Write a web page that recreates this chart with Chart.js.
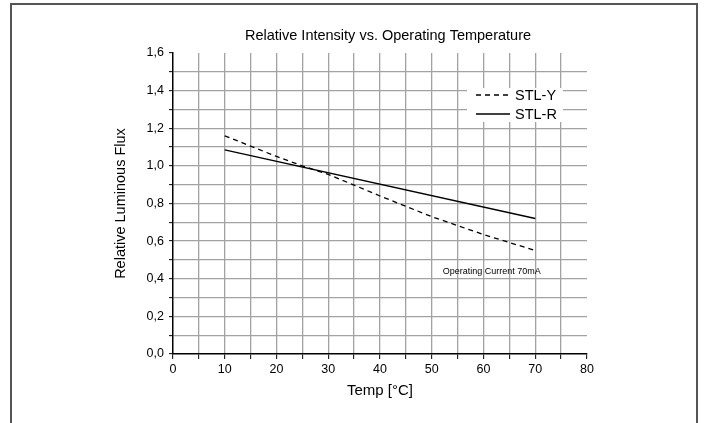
<!DOCTYPE html>
<html>
<head>
<meta charset="utf-8">
<script src="https://cdn.jsdelivr.net/npm/chart.js@4.4.0/dist/chart.umd.min.js"></script>
<style>
  html, body { margin: 0; padding: 0; background: #fff; overflow: hidden; }
  #wrap { position: relative; width: 705px; height: 423px; }
  #frame { position: absolute; left: 10px; top: 3px; width: 684px; height: 500px; border: 2px solid #555; pointer-events: none; }
  canvas { position: absolute; left: 0; top: 0; }
</style>
</head>
<body>
<div id="wrap">
  <canvas id="chart" width="705" height="423"></canvas>
  <div id="frame"></div>
</div>
<script>
// data
const temps = [10, 20, 25, 30, 40, 50, 60, 70];
const stlY = [1.16, 1.05, 1.0, 0.955, 0.84, 0.73, 0.635, 0.55];
const tempsR = [10, 70];
const stlR = [1.085, 0.72];
const seriesNames = ['STL-Y', 'STL-R'];
const chartTitle = 'Relative Intensity vs. Operating Temperature';
const noteText = 'Operating Current 70mA';

const FONT = 'Arial, "Liberation Sans", sans-serif';
const GRID = '#a2a2a2';

function toPoints(xs, ys) {
    return xs.map((x, i) => ({ x: x, y: ys[i] }));
}

const extras = {
    id: 'extras',
    afterDatasetsDraw(chart) {
        const ctx = chart.ctx;
        const xs = chart.scales.x, ys = chart.scales.y;
        ctx.save();

        // title
        ctx.fillStyle = '#000';
        ctx.font = '14.5px ' + FONT;
        ctx.textAlign = 'center';
        ctx.textBaseline = 'middle';
        ctx.fillText(chartTitle, 388, 36);

        // note
        ctx.font = '9px ' + FONT;
        ctx.fillText(noteText, xs.getPixelForValue(61.6), ys.getPixelForValue(0.436));

        // legend box
        ctx.fillStyle = '#fff';
        ctx.fillRect(467, 88, 96, 34);
        chart.data.datasets.forEach((ds, i) => {
            const y = 95 + i * 19;
            ctx.strokeStyle = ds.borderColor;
            ctx.lineWidth = ds.borderWidth;
            ctx.setLineDash(ds.borderDash || []);
            ctx.beginPath();
            ctx.moveTo(476, y);
            ctx.lineTo(510, y);
            ctx.stroke();
            ctx.setLineDash([]);
            ctx.fillStyle = '#000';
            ctx.font = '14.5px ' + FONT;
            ctx.textAlign = 'left';
            ctx.fillText(ds.label, 515, y + 1);
        });
        ctx.restore();
    }
};

new Chart(document.getElementById('chart').getContext('2d'), {
    type: 'line',
    data: {
        datasets: [
            {
                label: seriesNames[0],
                data: toPoints(temps, stlY),
                borderColor: '#000',
                borderWidth: 1.3,
                borderDash: [5, 4],
                pointRadius: 0,
                tension: 0,
                fill: false
            },
            {
                label: seriesNames[1],
                data: toPoints(tempsR, stlR),
                borderColor: '#000',
                borderWidth: 1.4,
                pointRadius: 0,
                tension: 0,
                fill: false
            }
        ]
    },
    options: {
        responsive: false,
        animation: false,
        layout: { padding: { left: 108, top: 53, right: 118, bottom: 19 } },
        plugins: {
            legend: { display: false },
            title: { display: false },
            tooltip: { enabled: false }
        },
        scales: {
            x: {
                type: 'linear',
                min: 0,
                max: 80,
                afterFit: (s) => { s.height = 50; },
                ticks: {
                    stepSize: 5,
                    autoSkip: false,
                    maxRotation: 0,
                    padding: 3,
                    color: '#000',
                    font: { family: FONT, size: 12.5 },
                    callback: (v) => (v % 10 === 0 ? String(v) : '')
                },
                grid: {
                    color: (c) => (c.tick && (c.tick.value === 80 || c.tick.value === 0) ? 'rgba(0,0,0,0)' : GRID),
                    lineWidth: 1.3,
                    tickColor: '#000',
                    tickLength: 5,
                    tickWidth: 1
                },
                border: { color: '#000', width: 1.5 },
                title: {
                    display: true,
                    text: 'Temp [°C]',
                    color: '#000',
                    font: { family: FONT, size: 15 },
                    padding: { top: 4, bottom: 4 }
                }
            },
            y: {
                min: 0,
                max: 1.6,
                afterFit: (s) => { s.width = 65; },
                ticks: {
                    stepSize: 0.1,
                    autoSkip: false,
                    padding: 5,
                    color: '#000',
                    font: { family: FONT, size: 12.5 },
                    callback: (v) => {
                        const t = Math.round(v * 10);
                        return t % 2 === 0 ? (t / 10).toFixed(1).replace('.', ',') : '';
                    }
                },
                grid: {
                    color: (c) => {
                        if (!c.tick) return GRID;
                        const t = Math.round(c.tick.value * 10);
                        return (t === 16 || t === 0) ? 'rgba(0,0,0,0)' : GRID;
                    },
                    lineWidth: 1.3,
                    tickColor: '#000',
                    tickLength: 4,
                    tickWidth: 1
                },
                border: { color: '#000', width: 1.5 },
                title: {
                    display: true,
                    text: 'Relative Luminous Flux',
                    color: '#000',
                    font: { family: FONT, size: 14.5 },
                    padding: { top: 4, bottom: 4 }
                }
            }
        }
    },
    plugins: [extras]
});
</script>
</body>
</html>
